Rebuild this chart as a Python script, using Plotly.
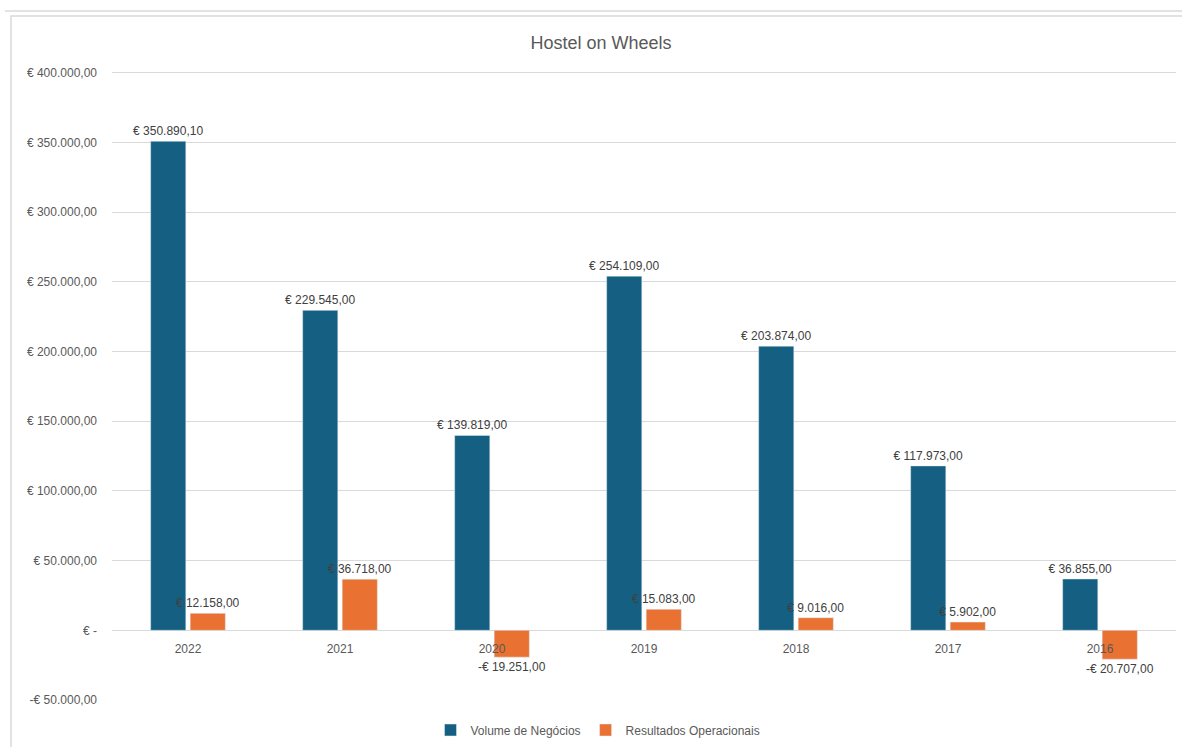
import plotly.graph_objects as go

years = ["2022", "2021", "2020", "2019", "2018", "2017", "2016"]
volume_negocios = [350890.10, 229545.00, 139819.00, 254109.00, 203874.00, 117973.00, 36855.00]
resultados_operacionais = [12158.00, 36718.00, -19251.00, 15083.00, 9016.00, 5902.00, -20707.00]
y_ticks = [-50000, 0, 50000, 100000, 150000, 200000, 250000, 300000, 350000, 400000]
y_range = [-50000, 402000]


def eur(v):
    if v == 0:
        return "€ -"
    s = f"{abs(v):,.2f}"  # 350,890.10
    s = s.replace(",", "X").replace(".", ",").replace("X", ".")
    return ("-€ " if v < 0 else "€ ") + s


BLUE = "#156082"
ORANGE = "#E97132"
FONT = "Liberation Sans"

fig = go.Figure()
fig.add_trace(go.Bar(
    x=years, y=volume_negocios, name="Volume de Negócios",
    marker=dict(color=BLUE),
    text=[eur(v) for v in volume_negocios], textposition="outside",
    textfont=dict(family=FONT, size=12, color="#404040"),
    constraintext="none", cliponaxis=False,
))
fig.add_trace(go.Bar(
    x=years, y=resultados_operacionais, name="Resultados Operacionais",
    marker=dict(color=ORANGE),
    text=[eur(v) for v in resultados_operacionais], textposition="outside",
    textfont=dict(family=FONT, size=12, color="#404040"),
    constraintext="none", cliponaxis=False,
))

W, H = 1182, 747
L, R, T, B = 112, 6, 70, 47
pw, ph = W - L - R, H - T - B

zero_frac = (0 - y_range[0]) / (y_range[1] - y_range[0])

fig.update_layout(
    width=W, height=H,
    margin=dict(l=L, r=R, t=T, b=B, autoexpand=False),
    paper_bgcolor="white", plot_bgcolor="white",
    font=dict(family=FONT, size=12, color="#595959"),
    barmode="group", bargap=0.48, bargroupgap=0.11,
    title=dict(text="Hostel on Wheels", x=601 / W, xref="container", xanchor="center",
               y=1 - 43 / H, yref="container", yanchor="middle",
               font=dict(family=FONT, size=18, color="#595959")),
    showlegend=True,
    legend=dict(orientation="h", x=(598 - L) / pw, xanchor="center",
                y=(H - B - 730) / ph, yanchor="middle",
                font=dict(family=FONT, size=12, color="#595959"),
                itemwidth=30, traceorder="normal"),
    xaxis=dict(type="category", anchor="free", position=zero_frac,
               showline=False, showgrid=False, ticks="outside", ticklen=7,
               tickcolor="rgba(0,0,0,0)",
               tickfont=dict(family=FONT, size=12, color="#595959")),
    yaxis=dict(range=y_range, tickvals=y_ticks,
               ticktext=[eur(v) for v in y_ticks],
               showgrid=True, gridcolor="#D9D9D9", gridwidth=1,
               zeroline=True, zerolinecolor="#D9D9D9", zerolinewidth=1,
               showline=False, ticks="", ticklabelstandoff=14,
               tickfont=dict(family=FONT, size=12, color="#595959")),
    shapes=[
        dict(type="line", xref="paper", yref="paper",
             x0=(5 - L) / pw, x1=(W - L) / pw, y0=(H - B - 11) / ph, y1=(H - B - 11) / ph,
             line=dict(color="#E6E2E0", width=2)),
        dict(type="rect", xref="paper", yref="paper",
             x0=(11 - L) / pw, x1=(W + 5 - L) / pw, y0=(H - B - 16) / ph, y1=(H - B - H - 5) / ph,
             line=dict(color="#D9D9D9", width=1.5), fillcolor="rgba(0,0,0,0)", layer="below"),
    ],
)

fig.write_html("out.html")
